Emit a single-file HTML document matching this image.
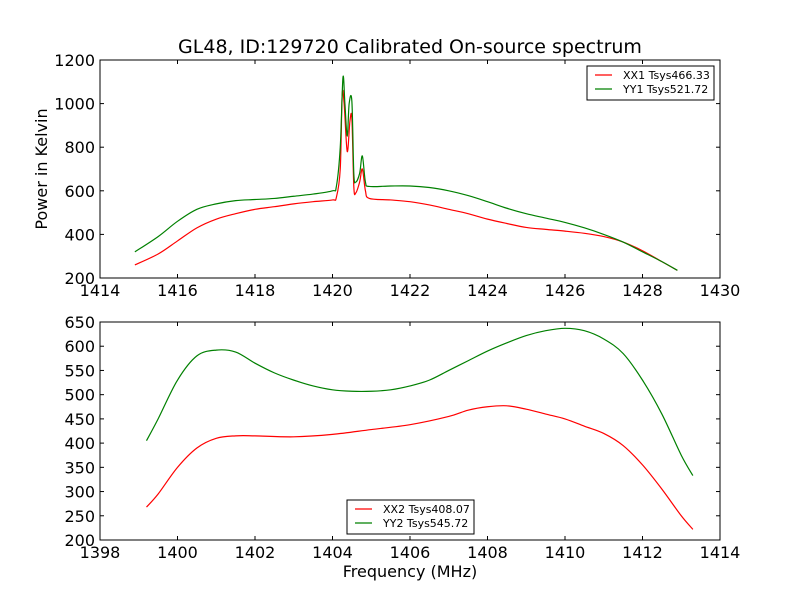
<!DOCTYPE html>
<html><head><meta charset="utf-8"><style>
body{margin:0;background:#fff}
svg text{font-family:"DejaVu Sans","Liberation Sans",sans-serif}
</style></head><body>
<svg id="chart" width="800" height="600" xmlns="http://www.w3.org/2000/svg">
<rect width="800" height="600" fill="#fff"/>
</svg>
<script>
const topRedF=[1414.9,1415.5,1416,1416.5,1417,1417.5,1418,1418.5,1419,1419.5,1420,1420.1,1420.2,1420.25,1420.3,1420.38,1420.45,1420.5,1420.55,1420.6,1420.7,1420.77,1420.85,1420.95,1421.5,1422,1422.5,1423,1423.5,1424,1424.5,1425,1425.5,1426,1426.5,1427,1427.5,1428,1428.5,1428.9];
const topRedV=[260,310,370,430,470,495,515,527,540,550,558,570,700,1040,1000,780,920,930,620,590,640,700,600,565,558,550,535,515,495,470,450,432,423,415,405,390,365,325,275,235];
const topGreenF=[1414.9,1415.5,1416,1416.5,1417,1417.5,1418,1418.5,1419,1419.5,1420,1420.1,1420.2,1420.27,1420.32,1420.38,1420.43,1420.5,1420.55,1420.6,1420.7,1420.77,1420.85,1420.95,1421.5,1422,1422.5,1423,1423.5,1424,1424.5,1425,1425.5,1426,1426.5,1427,1427.5,1428,1428.5,1428.9];
const topGreenV=[320,390,460,515,540,555,560,565,575,585,600,620,800,1120,1000,850,1000,1010,680,640,680,760,640,620,622,622,615,600,578,550,520,495,475,455,430,400,365,320,275,235];
const botRedF=[1399.2,1399.5,1400,1400.5,1401,1401.5,1402,1403,1404,1405,1406,1407,1407.5,1408,1408.5,1409,1409.5,1410,1410.5,1411,1411.5,1412,1412.5,1413,1413.3];
const botRedV=[268,295,350,390,410,415,415,413,418,428,438,455,468,475,477,470,460,450,435,420,395,355,305,250,222];
const botGreenF=[1399.2,1399.5,1400,1400.5,1401,1401.5,1402,1402.5,1403,1403.5,1404,1404.5,1405,1405.5,1406,1406.5,1407,1407.5,1408,1408.5,1409,1409.5,1410,1410.5,1411,1411.5,1412,1412.5,1413,1413.3];
const botGreenV=[405,450,530,580,592,588,565,545,530,518,510,507,507,510,518,530,550,570,590,607,622,632,637,632,615,585,530,460,375,333];
const topXTicks=[1414,1416,1418,1420,1422,1424,1426,1428,1430];
const topYTicks=[200,400,600,800,1000,1200];
const botXTicks=[1398,1400,1402,1404,1406,1408,1410,1412,1414];
const botYTicks=[200,250,300,350,400,450,500,550,600,650];
const topLegend=["XX1 Tsys466.33","YY1 Tsys521.72"];
const botLegend=["XX2 Tsys408.07","YY2 Tsys545.72"];

const svg=document.getElementById('chart');
const NS="http://www.w3.org/2000/svg";
function mk(tag,attrs,parent){const e=document.createElementNS(NS,tag);for(const k in attrs)e.setAttribute(k,attrs[k]);(parent||svg).appendChild(e);return e;}
function smooth(pts){
  let d='M'+pts[0][0].toFixed(2)+','+pts[0][1].toFixed(2);
  for(let i=0;i<pts.length-1;i++){
    const p0=pts[Math.max(i-1,0)],p1=pts[i],p2=pts[i+1],p3=pts[Math.min(i+2,pts.length-1)];
    const c1x=p1[0]+(p2[0]-p0[0])/6,c1y=p1[1]+(p2[1]-p0[1])/6;
    const c2x=p2[0]-(p3[0]-p1[0])/6,c2y=p2[1]-(p3[1]-p1[1])/6;
    d+=' C'+c1x.toFixed(2)+','+c1y.toFixed(2)+' '+c2x.toFixed(2)+','+c2y.toFixed(2)+' '+p2[0].toFixed(2)+','+p2[1].toFixed(2);
  }
  return d;
}
function panel(name,L,T,R,B,x0,x1,y0,y1,xt,yt,series,legend,lx,ly){
  const g=mk('g',{});
  
  
  const sx=v=>L+(v-x0)/(x1-x0)*(R-L);
  const sy=v=>B-(v-y0)/(y1-y0)*(B-T);
  series.forEach(s=>{
    const p=mk('path',{d:smooth(s.f.map((f,i)=>[sx(f),sy(s.v[i])])),fill:'none',stroke:s.c,'stroke-width':1.2},g);
    
    
  });
  mk('rect',{x:L,y:T,width:R-L,height:B-T,fill:'none',stroke:'#000','stroke-width':1},g);
  xt.forEach(t=>{const x=sx(t);
    mk('line',{x1:x,x2:x,y1:B,y2:B-4,stroke:'#000'},g);
    mk('line',{x1:x,x2:x,y1:T,y2:T+4,stroke:'#000'},g);
    const tx=mk('text',{x:x,y:B+18,'text-anchor':'middle','font-size':16},g);tx.textContent=t;
    
    
  });
  yt.forEach(t=>{const y=sy(t);
    mk('line',{x1:L,x2:L+4,y1:y,y2:y,stroke:'#000'},g);
    mk('line',{x1:R,x2:R-4,y1:y,y2:y,stroke:'#000'},g);
    const tx=mk('text',{x:L-5,y:y+6,'text-anchor':'end','font-size':16},g);tx.textContent=t;
    
    
  });
  const lg=mk('g',{},g);
  
  
  mk('rect',{x:lx,y:ly,width:127,height:34,fill:'#fff',stroke:'#000','stroke-width':1},lg);
  legend.forEach((t,i)=>{const y=ly+9+i*14;
    mk('line',{x1:lx+8,x2:lx+25,y1:y,y2:y,stroke:series[i].c,'stroke-width':1.2},lg);
    const tx=mk('text',{x:lx+36,y:y+4,'font-size':11},lg);tx.textContent=t;
    
    
  });
}
panel('top-panel',100,60,720,278,1414,1430,200,1200,topXTicks,topYTicks,
  [{f:topRedF,v:topRedV,c:'#ff0000',n:'xx1-line'},{f:topGreenF,v:topGreenV,c:'#008000',n:'yy1-line'}],topLegend,587,66);
panel('bottom-panel',100,322,720,540,1398,1414,200,650,botXTicks,botYTicks,
  [{f:botRedF,v:botRedV,c:'#ff0000',n:'xx2-line'},{f:botGreenF,v:botGreenV,c:'#008000',n:'yy2-line'}],botLegend,347,500);
</script>
<svg style="position:absolute;left:0;top:0" width="800" height="600" xmlns="http://www.w3.org/2000/svg">
<text x="410" y="53" text-anchor="middle" font-size="19">GL48, ID:129720 Calibrated On-source spectrum</text>
<text x="47" y="169" text-anchor="middle" font-size="16" transform="rotate(-90 47 169)">Power in Kelvin</text>
<text x="410" y="577" text-anchor="middle" font-size="16">Frequency (MHz)</text>
</svg>
</body></html>
